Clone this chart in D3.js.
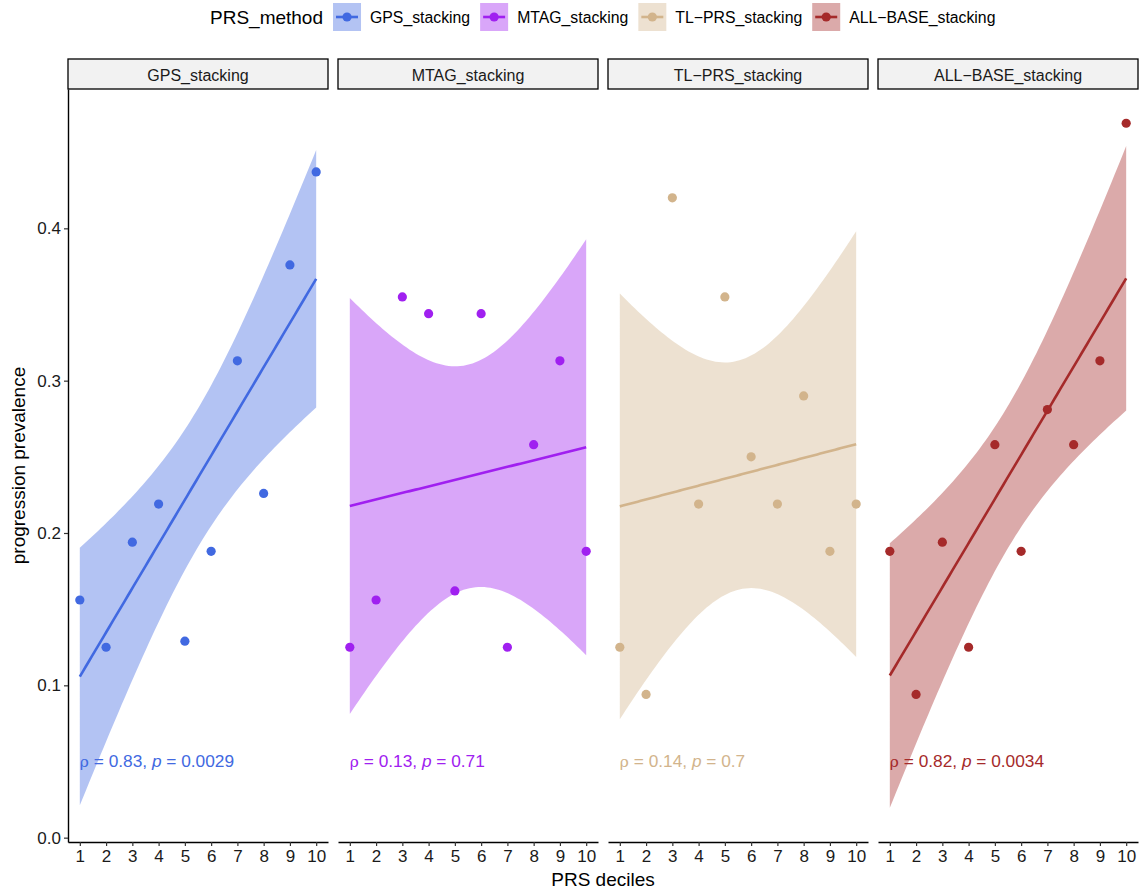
<!DOCTYPE html>
<html><head><meta charset="utf-8">
<script src="https://cdn.jsdelivr.net/npm/d3@7"></script>
<style>body{margin:0;background:#fff;} text{font-family:"Liberation Sans",Arial,Helvetica,sans-serif;}</style>
</head><body><svg id="c" width="1139" height="893"></svg>
<script>
// ---- data ----
const deciles = [1, 2, 3, 4, 5, 6, 7, 8, 9, 10];
const methods = ["GPS_stacking", "MTAG_stacking", "TL\u2212PRS_stacking", "ALL\u2212BASE_stacking"];
const methodColors = ["#4169E1", "#A020F0", "#D2B48C", "#A52A2A"];
const gpsValues     = [0.156, 0.125, 0.194, 0.219, 0.129, 0.188, 0.313, 0.226, 0.376, 0.437];
const mtagValues    = [0.125, 0.156, 0.355, 0.344, 0.162, 0.344, 0.125, 0.258, 0.313, 0.188];
const tlprsValues   = [0.125, 0.094, 0.420, 0.219, 0.355, 0.250, 0.219, 0.290, 0.188, 0.219];
const allbaseValues = [0.188, 0.094, 0.194, 0.125, 0.258, 0.188, 0.281, 0.258, 0.313, 0.469];
const seriesValues = [gpsValues, mtagValues, tlprsValues, allbaseValues];
const rhoLabels = ["0.83", "0.13", "0.14", "0.82"];
const pLabels = ["0.0029", "0.71", "0.7", "0.0034"];
const yTicks = [0, 0.1, 0.2, 0.3, 0.4];
const annotationY = 0.05;
const tCrit = 2.306004; // t(0.975, df = 8)

// ---- layout ----
const svg = d3.select("#c");
const plotLeft = 68, plotRight = 1138, gap = 10, panelTop = 89, panelBottom = 842;
const stripTop = 59;
const panelW = (plotRight - plotLeft - gap * (methods.length - 1)) / methods.length;
const font = '"Liberation Sans",Arial,Helvetica,sans-serif';

// linear fits + confidence bands
function fit(xs, ys) {
  const n = xs.length, xbar = d3.mean(xs), ybar = d3.mean(ys);
  const sxx = d3.sum(xs, x => (x - xbar) ** 2);
  const sxy = d3.sum(xs.map((x, i) => (x - xbar) * (ys[i] - ybar)));
  const b = sxy / sxx, a = ybar - b * xbar;
  const sse = d3.sum(xs.map((x, i) => (ys[i] - a - b * x) ** 2));
  const s = Math.sqrt(sse / (n - 2));
  const xg = d3.range(80).map(i => xs[0] + (xs[n - 1] - xs[0]) * i / 79);
  const band = xg.map(x => {
    const yh = a + b * x;
    const se = s * Math.sqrt(1 / n + (x - xbar) ** 2 / sxx);
    return { x, y: yh, lo: yh - tCrit * se, hi: yh + tCrit * se };
  });
  return { a, b, band };
}
const fits = seriesValues.map(v => fit(deciles, v));

const allLo = d3.min(fits.flatMap((f, i) => [d3.min(f.band, d => d.lo), d3.min(seriesValues[i])]));
const allHi = d3.max(fits.flatMap((f, i) => [d3.max(f.band, d => d.hi), d3.max(seriesValues[i])]));
const rng = allHi - allLo;
const y = d3.scaleLinear().domain([allLo - 0.05 * rng, allHi + 0.05 * rng]).range([panelBottom, panelTop]);

methods.forEach((m, i) => {
  const x0 = plotLeft + i * (panelW + gap);
  const x = d3.scaleLinear().domain([1 - 0.45, 10 + 0.45]).range([x0, x0 + panelW]);
  const col = methodColors[i];
  const g = svg.append("g");
  const f = fits[i];

  // strip
  g.append("rect").attr("x", x0).attr("y", stripTop).attr("width", panelW).attr("height", panelTop - stripTop)
    .attr("fill", "#F2F2F2").attr("stroke", "#000").attr("stroke-width", 1.3);
  g.append("text").attr("x", x0 + panelW / 2).attr("y", (stripTop + panelTop) / 2 + 1).attr("dy", "0.35em")
    .attr("text-anchor", "middle").attr("font-size", 16).attr("fill", "#1A1A1A").text(m);

  // band
  g.append("path").datum(f.band)
    .attr("d", d3.area().x(d => x(d.x)).y0(d => y(d.lo)).y1(d => y(d.hi)))
    .attr("fill", col).attr("fill-opacity", 0.4);
  // line
  g.append("path").datum(f.band)
    .attr("d", d3.line().x(d => x(d.x)).y(d => y(d.y)))
    .attr("fill", "none").attr("stroke", col).attr("stroke-width", 2.6);
  // points
  g.selectAll("circle.pt").data(seriesValues[i]).join("circle")
    .attr("cx", (d, j) => x(deciles[j])).attr("cy", d => y(d)).attr("r", 4.6).attr("fill", col);

  // annotation
  const t = g.append("text").attr("x", x(1)).attr("y", y(annotationY)).attr("dy", "0.3em")
    .attr("font-size", 17.3).attr("fill", col);
  t.append("tspan").attr("font-family", '"DejaVu Serif",serif').attr("font-size", 15.5).text("\u03C1");
  t.append("tspan").text(" = " + rhoLabels[i] + ", ");
  t.append("tspan").attr("font-style", "italic").text("p");
  t.append("tspan").text(" = " + pLabels[i]);

  // x axis
  const ax = g.append("g").attr("transform", `translate(0,${panelBottom})`)
    .call(d3.axisBottom(x).tickValues(deciles).tickSize(4).tickSizeOuter(0).tickPadding(4));
  ax.select(".domain").attr("stroke", "#000").attr("stroke-width", 1.4);
  ax.selectAll(".tick line").attr("stroke", "#333").attr("stroke-width", 1.2);
  ax.selectAll(".tick text").attr("font-size", 17).attr("font-family", font).attr("fill", "#1A1A1A");

  if (i === 0) {
    const ay = g.append("g").attr("transform", `translate(${x0},0)`)
      .call(d3.axisLeft(y).tickValues(yTicks).tickFormat(d3.format(".1f")).tickSize(4).tickSizeOuter(0).tickPadding(3));
    ay.select(".domain").attr("stroke", "#000").attr("stroke-width", 1.4);
    ay.selectAll(".tick line").attr("stroke", "#333").attr("stroke-width", 1.2);
    ay.selectAll(".tick text").attr("font-size", 17).attr("font-family", font).attr("fill", "#1A1A1A");
  }
});

// axis titles
svg.append("text").attr("x", (plotLeft + plotRight) / 2).attr("y", 886).attr("text-anchor", "middle")
  .attr("font-size", 19).attr("fill", "#000").text("PRS deciles");
svg.append("text").attr("transform", `translate(25,${(panelTop + panelBottom) / 2}) rotate(-90)`).attr("text-anchor", "middle")
  .attr("font-size", 19).attr("fill", "#000").text("progression prevalence");

// legend
const leg = svg.append("g");
const title = leg.append("text").attr("x", 210).attr("y", 17).attr("dy", "0.35em").attr("font-size", 19).text("PRS_method");
let lx = 210 + title.node().getComputedTextLength() + 10;
methods.forEach((m, i) => {
  const col = methodColors[i];
  leg.append("rect").attr("x", lx).attr("y", 3).attr("width", 28).attr("height", 28).attr("fill", col).attr("fill-opacity", 0.4);
  leg.append("line").attr("x1", lx + 3).attr("x2", lx + 25).attr("y1", 17).attr("y2", 17).attr("stroke", col).attr("stroke-width", 2.6);
  leg.append("circle").attr("cx", lx + 14).attr("cy", 17).attr("r", 4.6).attr("fill", col);
  const tx = leg.append("text").attr("x", lx + 37).attr("y", 17).attr("dy", "0.35em").attr("font-size", 15.8).text(m);
  lx += 37 + tx.node().getComputedTextLength() + 10;
});
</script></body></html>
